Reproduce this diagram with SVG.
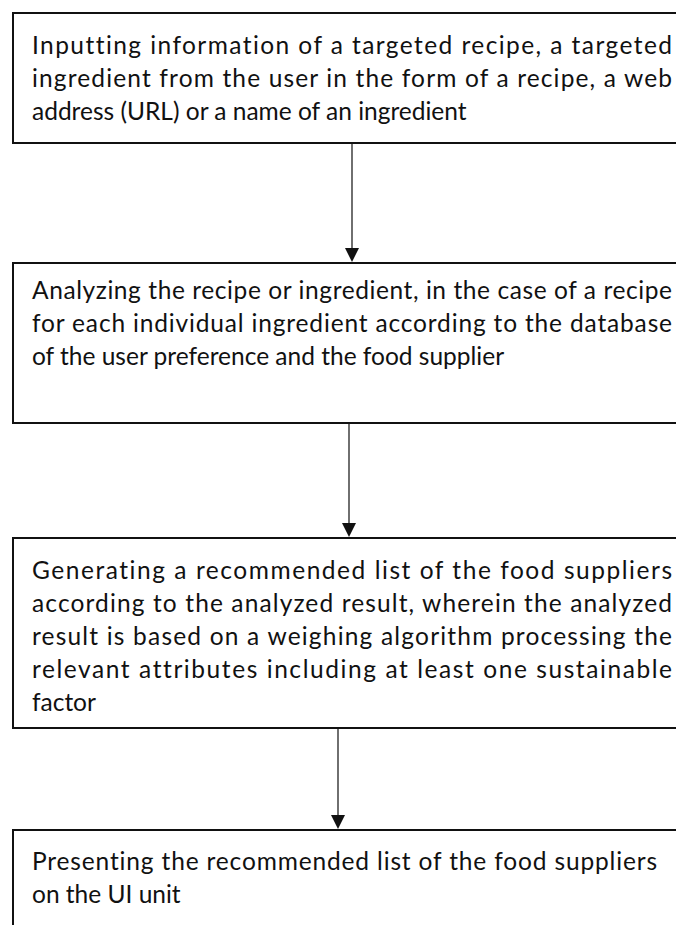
<svg xmlns="http://www.w3.org/2000/svg" width="676" height="925" viewBox="0 0 676 925">
<style>
.box{fill:#fff;stroke:#111;stroke-width:2}
.t{font-family:Lato,"Open Sans","Liberation Sans",sans-serif;font-size:24.5px;fill:#111;font-variant-ligatures:none;font-feature-settings:"liga" 0,"clig" 0}
.c{stroke:#222;stroke-width:1.3;fill:none}
.ah{fill:#111}
</style>
<rect width="676" height="925" fill="#fff"/>
<g id="connectors">
<line class="c" x1="352" y1="144" x2="352" y2="250"/>
<path class="ah" d="M345,248 L359,248 L352,262 Z"/>
<line class="c" x1="349" y1="424" x2="349" y2="525"/>
<path class="ah" d="M342,523 L356,523 L349,537 Z"/>
<line class="c" x1="338" y1="729" x2="338" y2="817"/>
<path class="ah" d="M331,815 L345,815 L338,829 Z"/>
</g>
<g id="n1">
<rect class="box" x="13" y="13" width="680" height="130"/>
<text class="t" x="32" y="54" textLength="640" lengthAdjust="spacing">Inputting information of a targeted recipe, a targeted</text>
<text class="t" x="32" y="87" textLength="640" lengthAdjust="spacing">ingredient from the user in the form of a recipe, a web</text>
<text class="t" x="32" y="120">address (URL) or a name of an ingredient</text>
</g>
<g id="n2">
<rect class="box" x="13" y="263" width="680" height="160"/>
<text class="t" x="32" y="299" textLength="640" lengthAdjust="spacing">Analyzing the recipe or ingredient, in the case of a recipe</text>
<text class="t" x="32" y="332" textLength="640" lengthAdjust="spacing">for each individual ingredient according to the database</text>
<text class="t" x="32" y="365">of the user preference and the food supplier</text>
</g>
<g id="n3">
<rect class="box" x="13" y="538" width="680" height="190"/>
<text class="t" x="32" y="579" textLength="640" lengthAdjust="spacing">Generating a recommended list of the food suppliers</text>
<text class="t" x="32" y="612" textLength="640" lengthAdjust="spacing">according to the analyzed result, wherein the analyzed</text>
<text class="t" x="32" y="645" textLength="640" lengthAdjust="spacing">result is based on a weighing algorithm processing the</text>
<text class="t" x="32" y="678" textLength="640" lengthAdjust="spacing">relevant attributes including at least one sustainable</text>
<text class="t" x="32" y="711">factor</text>
</g>
<g id="n4">
<rect class="box" x="13" y="830" width="680" height="120"/>
<text class="t" x="32" y="870" textLength="625" lengthAdjust="spacing">Presenting the recommended list of the food suppliers</text>
<text class="t" x="32" y="903">on the UI unit</text>
</g>
</svg>
